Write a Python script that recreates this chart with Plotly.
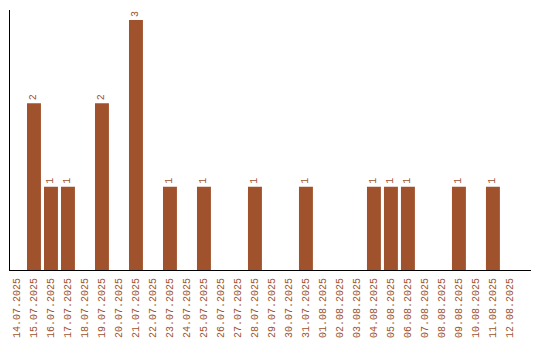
import plotly.graph_objects as go

dates = ["14.07.2025","15.07.2025","16.07.2025","17.07.2025","18.07.2025","19.07.2025",
         "20.07.2025","21.07.2025","22.07.2025","23.07.2025","24.07.2025","25.07.2025",
         "26.07.2025","27.07.2025","28.07.2025","29.07.2025","30.07.2025","31.07.2025",
         "01.08.2025","02.08.2025","03.08.2025","04.08.2025","05.08.2025","06.08.2025",
         "07.08.2025","08.08.2025","09.08.2025","10.08.2025","11.08.2025","12.08.2025"]
counts = [0,2,1,1,0,2,0,3,0,1,0,1,0,0,1,0,0,1,0,0,0,1,1,1,0,0,1,0,1,0]

color = "#a0522d"
font = "Liberation Mono, Courier New, monospace"

fig = go.Figure(go.Bar(
    x=dates, y=counts, marker_color=color, marker_line_width=0,
    text=[str(c) if c else "" for c in counts],
    textposition="outside", textangle=-90,
    textfont=dict(family=font, size=10, color=color),
    cliponaxis=False,
))
fig.update_layout(
    width=540, height=340,
    margin=dict(l=10, r=9, t=10, b=70, autoexpand=False),
    paper_bgcolor="white", plot_bgcolor="white",
    bargap=0.18, showlegend=False,
    font=dict(family=font, size=10, color=color),
)
fig.update_xaxes(type="category", range=[-0.41, 30.24], automargin=False,
                 tickangle=-90, showline=True, linecolor="black", linewidth=1,
                 ticklabelstandoff=3,
                 showgrid=False, ticks="", tickfont=dict(family=font, size=10, color=color))
fig.update_yaxes(range=[0, 3.12], automargin=False, showline=True, linecolor="black", linewidth=1,
                 showgrid=False, showticklabels=False, ticks="", zeroline=False)
fig.write_html("out.html")
